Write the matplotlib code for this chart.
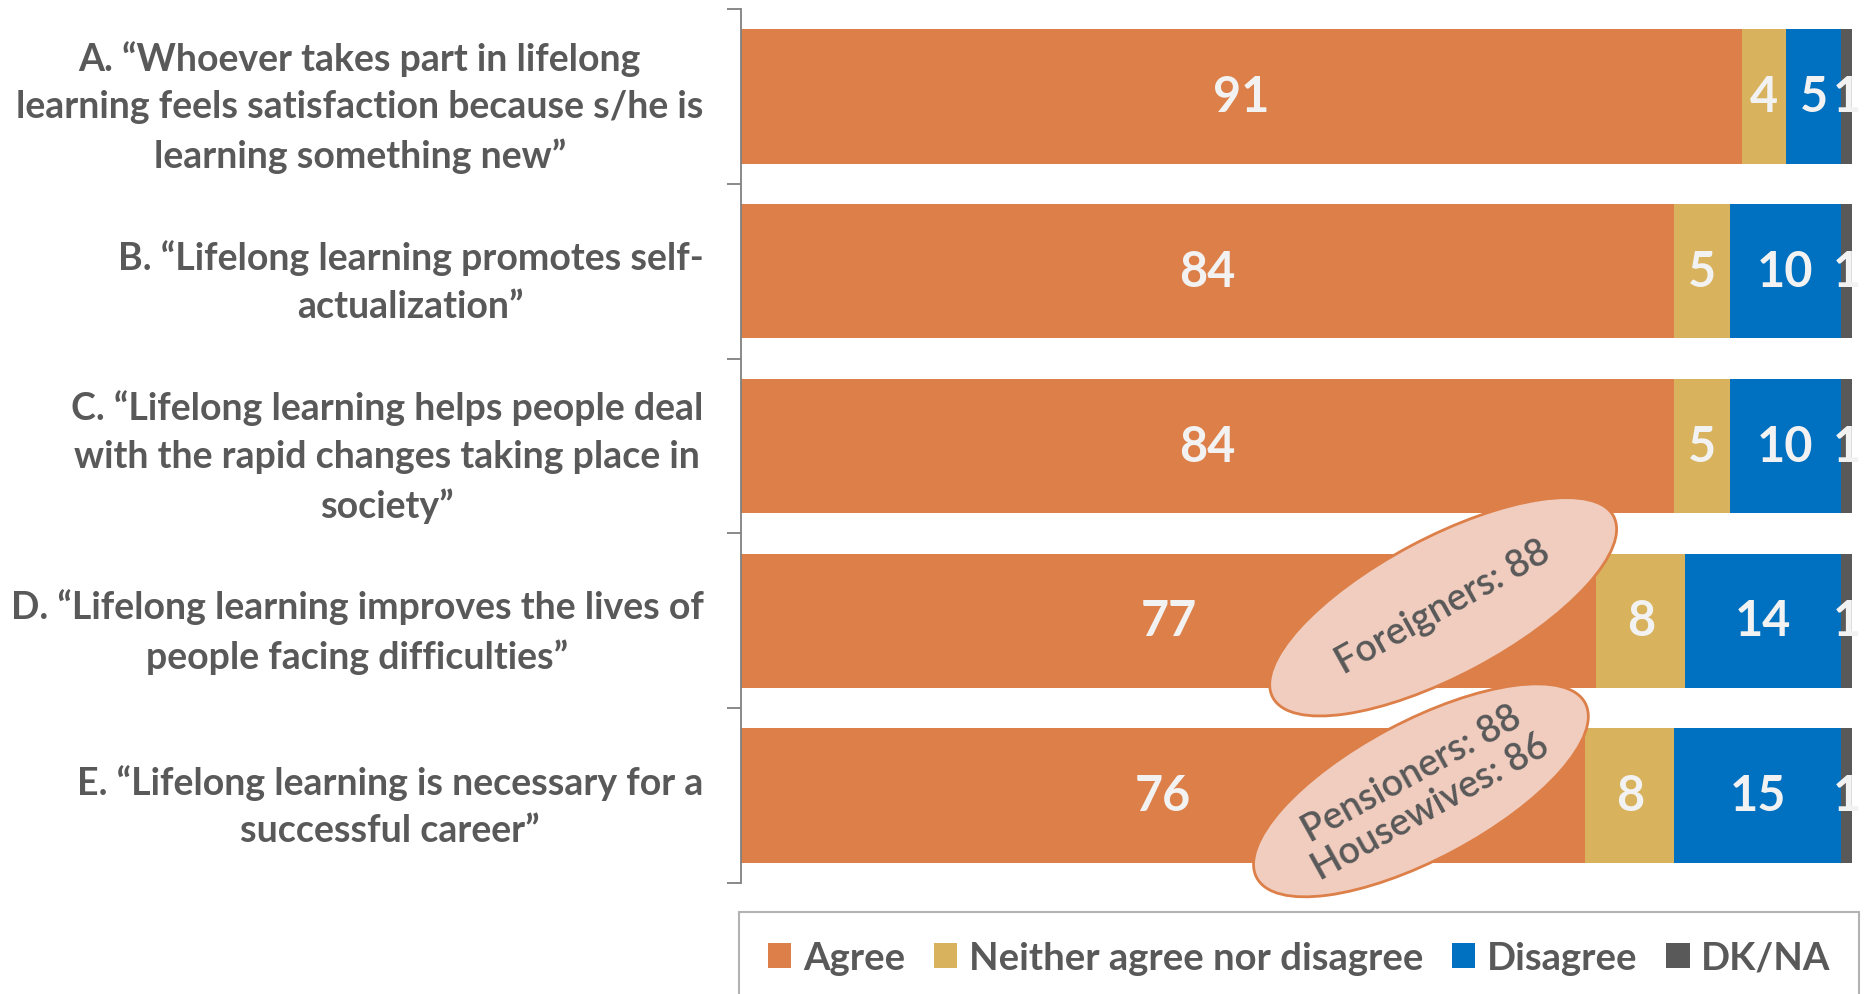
import matplotlib
matplotlib.use("Agg")
import matplotlib.pyplot as plt
import matplotlib.transforms as mtransforms
from matplotlib.patches import Ellipse, Patch
import numpy as np

plt.rcParams['font.family'] = ['Lato', 'DejaVu Sans']

# data
statements = [
    "A. \u201cWhoever takes part in lifelong\nlearning feels satisfaction because s/he is\nlearning something new\u201d",
    "B. \u201cLifelong learning promotes self-\nactualization\u201d",
    "C. \u201cLifelong learning helps people deal\nwith the rapid changes taking place in\nsociety\u201d",
    "D. \u201cLifelong learning improves the lives of\npeople facing difficulties\u201d",
    "E. \u201cLifelong learning is necessary for a\nsuccessful career\u201d",
]
series_names = ["Agree", "Neither agree nor disagree", "Disagree", "DK/NA"]
agree = [91, 84, 84, 77, 76]
neither = [4, 5, 5, 8, 8]
disagree = [5, 10, 10, 14, 15]
dkna = [1, 1, 1, 1, 1]

callout_rows = [3, 4]
callout_agree = [63.2, 61.2]
callout_text = ["Foreigners: 88", "Pensioners: 88\nHousewives: 86"]

# colours
orange = "#DD7F48"
gold = "#D8B25C"
blue = "#0070C0"
dgrey = "#595959"
textgrey = "#595959"
colors = [orange, gold, blue, dgrey]

fig = plt.figure(figsize=(18.74, 9.95), dpi=100)
ax = fig.add_axes([741/1874, 1-884/995, (1852-741)/1874, (884-10)/995])

vals = np.array([agree, neither, disagree, dkna], dtype=float)
pct = vals / vals.sum(axis=0) * 100
ypos = np.arange(len(statements))

left = np.zeros(len(statements))
for i in range(len(series_names)):
    ax.barh(ypos, pct[i], left=left, height=0.77, color=colors[i], label=series_names[i], zorder=2)
    for j in range(len(statements)):
        ax.text(left[j] + pct[i][j]/2, ypos[j], "%d" % vals[i][j], ha="center", va="center",
                fontsize=35, fontweight="bold", color="#F2F2F2", zorder=3)
    left = left + pct[i]

ax.set_xlim(0, 100)
ax.set_ylim(4.5, -0.5)
ax.set_xticks([])
ax.set_yticks(ypos)
ax.set_yticklabels(statements, fontsize=27, fontweight="bold", color=textgrey,
                   multialignment="center", linespacing=1.48)
ax.tick_params(axis="y", which="major", length=0, pad=27)
ax.set_yticks(np.arange(-0.5, 5, 1), minor=True)
ax.tick_params(axis="y", which="minor", length=10, width=1.3, color="#808080", direction="out")
for s in ["top", "right", "bottom"]:
    ax.spines[s].set_visible(False)
ax.spines["left"].set_color("#808080")
ax.spines["left"].set_linewidth(1.3)

# callout ellipses
for r, xa, t in zip(callout_rows, callout_agree, callout_text):
    yc = r - (0.08 if r == 3 else 0.03)
    tr = fig.dpi_scale_trans + mtransforms.ScaledTranslation(xa, yc, ax.transData)
    e = Ellipse((0, 0), width=3.86 if r == 3 else 3.72, height=1.38, angle=28, transform=tr,
                facecolor="#F0CDBF", edgecolor=orange, linewidth=2, zorder=4, clip_on=False)
    ax.add_patch(e)
    ax.text(xa, yc, t, ha="center", va="center", rotation=29, rotation_mode="anchor",
            fontsize=27, fontweight="semibold", color=textgrey, zorder=5, linespacing=1.12,
            multialignment="center")

handles = [Patch(facecolor=c, edgecolor="none") for c in colors]
leg = fig.legend(handles, series_names, loc="upper left", bbox_to_anchor=(739/1874, 1-913/995),
                 ncol=4, frameon=True, fancybox=False, fontsize=27.5, handlelength=0.62,
                 handleheight=0.62, handletextpad=0.3, columnspacing=0.75, borderpad=0.75,
                 borderaxespad=0)
for txt in leg.get_texts():
    txt.set_color(textgrey)
    txt.set_fontweight("bold")
leg.get_frame().set_edgecolor("#A0A0A0")
leg.get_frame().set_linewidth(1.5)

fig.savefig("out.png", dpi=100)
